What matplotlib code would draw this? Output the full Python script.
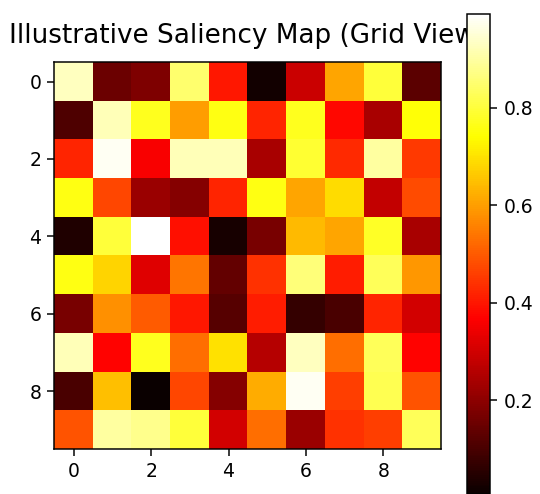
import numpy as np
import matplotlib
matplotlib.use("Agg")
import matplotlib.pyplot as plt

# saliency values (rows top to bottom)
row0 = [0.93, 0.15, 0.18, 0.85, 0.40, 0.02, 0.29, 0.61, 0.80, 0.13]
row1 = [0.11, 0.92, 0.77, 0.60, 0.76, 0.42, 0.77, 0.38, 0.24, 0.75]
row2 = [0.42, 0.98, 0.36, 0.92, 0.92, 0.24, 0.79, 0.43, 0.90, 0.45]
row3 = [0.76, 0.47, 0.22, 0.19, 0.42, 0.76, 0.61, 0.69, 0.28, 0.48]
row4 = [0.04, 0.80, 0.993, 0.39, 0.03, 0.17, 0.64, 0.61, 0.78, 0.24]
row5 = [0.76, 0.68, 0.32, 0.54, 0.14, 0.44, 0.86, 0.41, 0.83, 0.59]
row6 = [0.17, 0.58, 0.50, 0.40, 0.12, 0.41, 0.07, 0.10, 0.42, 0.30]
row7 = [0.92, 0.37, 0.77, 0.53, 0.70, 0.26, 0.93, 0.53, 0.83, 0.37]
row8 = [0.10, 0.65, 0.007, 0.47, 0.19, 0.62, 0.98, 0.46, 0.82, 0.49]
row9 = [0.49, 0.90, 0.88, 0.80, 0.30, 0.53, 0.22, 0.44, 0.46, 0.83]

saliency = np.array([row0, row1, row2, row3, row4, row5, row6, row7, row8, row9])

fig = plt.figure(figsize=(4.0, 494 / 135), dpi=135)
ax = fig.add_axes([0.098, 0.091, 0.722, 0.783])
cax = fig.add_axes([0.865, 0.0, 0.043, 0.972])

im = ax.imshow(saliency, cmap='hot')
ax.set_title('Illustrative Saliency Map (Grid View)', fontsize=14, pad=10)
fig.colorbar(im, cax=cax)

fig.savefig('out.png', dpi=135)
